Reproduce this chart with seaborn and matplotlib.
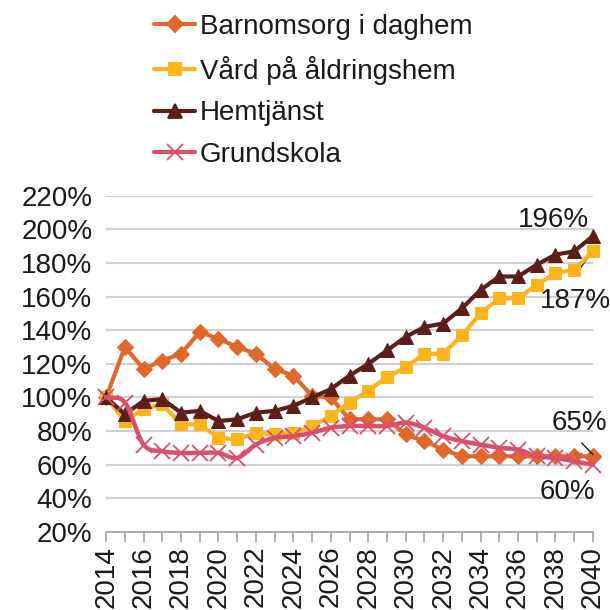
import numpy as np
import pandas as pd
import matplotlib
matplotlib.use("Agg")
import matplotlib.pyplot as plt
import seaborn as sns
from matplotlib.lines import Line2D

years = list(range(2014, 2041))
barnomsorg = [100, 130, 117, 122, 126, 139, 135, 130, 126, 117, 113, 101, 100,
              87, 87, 87, 78, 74, 69, 65, 65, 65, 65, 65, 65, 65, 65]
vard = [100, 86, 93, 96, 84, 84, 76, 75, 79, 78, 79, 83, 89,
        97, 104, 112, 118, 126, 126, 137, 150, 159, 159, 167, 174, 176, 187]
hemtjanst = [100, 90, 98, 99, 91, 92, 86, 87, 91, 92, 95, 100, 105,
             113, 120, 128, 136, 142, 144, 153, 164, 172, 172, 179, 185, 187, 196]
grundskola = [100, 97, 72, 68, 67, 67, 67, 64, 72, 76, 77, 79, 82,
              83, 83, 83, 85, 82, 77, 74, 72, 70, 69, 65, 64, 62, 60]

names = ["Barnomsorg i daghem", "Vård på åldringshem", "Hemtjänst", "Grundskola"]
colors = ["#E0682A", "#FBB41C", "#5C1E19", "#D9506A"]
markers = ["D", "s", "^", "x"]
msizes = [8, 9, 10, 11]
series = [barnomsorg, vard, hemtjanst, grundskola]

sns.set_theme(style="white")
plt.rcParams["font.family"] = ["Liberation Sans", "DejaVu Sans"]

fig = plt.figure(figsize=(6.1, 6.1), dpi=100)
ax = fig.add_axes([0.174, 0.128, 0.798, 0.551])

def catmull(xs, ys, n=12):
    xs = np.asarray(xs, float); ys = np.asarray(ys, float)
    px = np.concatenate([[2 * xs[0] - xs[1]], xs, [2 * xs[-1] - xs[-2]]])
    py = np.concatenate([[2 * ys[0] - ys[1]], ys, [2 * ys[-1] - ys[-2]]])
    ox, oy = [], []
    t = np.linspace(0, 1, n, endpoint=False)
    for i in range(1, len(px) - 2):
        for arr, out in ((px, ox), (py, oy)):
            p0, p1, p2, p3 = arr[i - 1], arr[i], arr[i + 1], arr[i + 2]
            out.extend(0.5 * ((2 * p1) + (-p0 + p2) * t
                              + (2 * p0 - 5 * p1 + 4 * p2 - p3) * t ** 2
                              + (-p0 + 3 * p1 - 3 * p2 + p3) * t ** 3))
    ox.append(xs[-1]); oy.append(ys[-1])
    return np.array(ox), np.array(oy)

for i, (name, vals) in enumerate(zip(names, series)):
    df = pd.DataFrame({"year": years, "value": vals})
    if name == "Grundskola":
        sx, sy = catmull(years, vals)
        ax.plot(sx, sy, color=colors[i], lw=3.2, zorder=3 + i, solid_capstyle="round")
        sns.lineplot(data=df, x="year", y="value", ax=ax, color=colors[i],
                     marker=markers[i], markersize=msizes[i], markeredgewidth=1.3,
                     markeredgecolor=colors[i], linestyle="none", zorder=3 + i)
    else:
        sns.lineplot(data=df, x="year", y="value", ax=ax, color=colors[i],
                     marker=markers[i], markersize=msizes[i],
                     markeredgecolor=colors[i], lw=3, zorder=3 + i)

ax.set_xlim(2014, 2040)
ax.set_ylim(20, 220)
ax.set_yticks(range(20, 221, 20))
ax.set_yticklabels([f"{v}%" for v in range(20, 221, 20)], fontsize=20, color="#1a1a1a")
ax.set_xticks(range(2014, 2041, 1), minor=False)
ax.set_xticklabels([str(y) if y % 2 == 0 else "" for y in years],
                   rotation=90, fontsize=20, color="#1a1a1a")
ax.tick_params(axis="x", length=7, width=1.2, color="#A0A0A0", direction="out", pad=3,
               bottom=True)
ax.tick_params(axis="y", length=0, pad=10)
ax.set_xlabel("")
ax.set_ylabel("")
ax.grid(axis="y", color="#D0D0D0", lw=1.5)
ax.set_axisbelow(True)
for s in ["top", "right", "left"]:
    ax.spines[s].set_visible(False)
ax.spines["bottom"].set_color("#A0A0A0")
ax.spines["bottom"].set_linewidth(1.2)
for ln in ax.lines:
    ln.set_clip_on(False)

# annotations
tk = dict(fontsize=20, ha="center", va="center", color="#1a1a1a", annotation_clip=False)
ax.annotate("196%", xy=(2040, 196), xytext=(2037.9, 205.5), **tk)
ax.annotate("187%", xy=(2040, 187), xytext=(2039.05, 157.5), **tk)
ax.annotate("", xy=(2039.85, 185), xytext=(2039.0, 172), annotation_clip=False,
            arrowprops=dict(arrowstyle="-", color="#1a1a1a", lw=1, shrinkA=0, shrinkB=0))
ax.annotate("65%", xy=(2040, 65), xytext=(2039.3, 85), **tk)
ax.annotate("", xy=(2040, 66), xytext=(2039.4, 73), annotation_clip=False,
            arrowprops=dict(arrowstyle="-", color="#1a1a1a", lw=1, shrinkA=0, shrinkB=0))
ax.annotate("60%", xy=(2040, 60), xytext=(2038.65, 44), **tk)

handles = [Line2D([0], [0], color=c, lw=3, marker=m, markersize=ms,
                  markeredgecolor=c, markeredgewidth=1.3)
           for c, m, ms in zip(colors, markers, msizes)]
fig.legend(handles, names, loc="upper left", bbox_to_anchor=(0.235, 0.995),
           frameon=False, fontsize=20, handlelength=1.45, handletextpad=0.18,
           labelspacing=0.56, borderaxespad=0, labelcolor="#1a1a1a")

fig.savefig("out.png", dpi=100)
